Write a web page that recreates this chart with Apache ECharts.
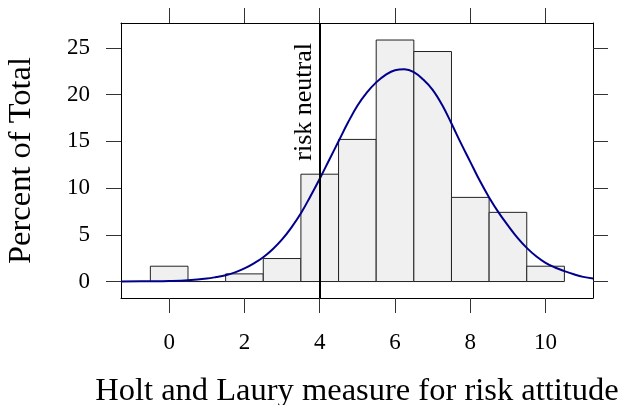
<!DOCTYPE html>
<html>
<head>
<meta charset="utf-8">
<script src="https://cdn.jsdelivr.net/npm/echarts@6/dist/echarts.min.js"></script>
<style>html,body{margin:0;padding:0;background:#fff}#c{width:621px;height:405px}</style>
</head>
<body>
<div id="c"></div>
<script>
// Histogram bins (centres) and percent of total
const binCentres = [0, 1, 2, 3, 4, 5, 6, 7, 8, 9, 10];
const percentOfTotal = [1.64, 0, 0.82, 2.46, 11.48, 15.2, 25.83, 24.6, 9.0, 7.4, 1.64];
// Fitted density curve
const curveX = [-1.28, -0.5, 0, 0.5, 1, 1.25, 1.5, 1.75, 2, 2.25, 2.5, 2.75, 3, 3.25, 3.5, 3.75, 4, 4.25, 4.5, 4.75, 5, 5.25, 5.5, 5.75, 6, 6.25, 6.5, 6.75, 7, 7.25, 7.5, 7.75, 8, 8.25, 8.5, 8.75, 9, 9.25, 9.5, 9.75, 10, 10.25, 10.5, 10.75, 11, 11.26];
const curveY = [0.01, 0.03, 0.06, 0.14, 0.32, 0.48, 0.68, 0.98, 1.4, 1.95, 2.6, 3.45, 4.5, 5.8, 7.3, 9.1, 11.0, 13.0, 15.0, 17.0, 18.8, 20.2, 21.3, 22.1, 22.6, 22.7, 22.4, 21.6, 20.5, 18.9, 16.9, 14.8, 12.8, 10.8, 9.0, 7.4, 6.0, 4.7, 3.6, 2.7, 2.0, 1.5, 1.12, 0.78, 0.5, 0.33];
// Ticks
const xTicks = [0, 2, 4, 6, 8, 10];
const yTicks = [0, 5, 10, 15, 20, 25];
const riskNeutral = 4;
const xRange = [-1.28, 11.26];
const yRange = [-1.76, 27.65];
const binWidth = 1;

const FONT = 'Liberation Serif';
const chart = echarts.init(document.getElementById('c'), null, {renderer: 'canvas'});

function axisCommon(extra) {
  return Object.assign({
    type: 'value',
    splitLine: {show: false},
    axisLine: {show: true, onZero: false, lineStyle: {color: '#000', width: 1}}
  }, extra);
}

const xA = (pos, labels) => axisCommon({
  position: pos, min: xRange[0], max: xRange[1],
  axisTick: {show: true, length: 15, customValues: xTicks, lineStyle: {color: '#333', width: 1}},
  axisLabel: labels ? {show: true, customValues: xTicks, margin: 33, color: '#000', fontFamily: FONT, fontSize: 23} : {show: false},
  name: labels ? 'Holt and Laury measure for risk attitude' : '',
  nameLocation: 'middle', nameGap: 77,
  nameTextStyle: {color: '#000', fontFamily: FONT, fontSize: 32.5}
});
const yA = (pos, labels) => axisCommon({
  position: pos, min: yRange[0], max: yRange[1],
  axisTick: {show: true, length: 15, customValues: yTicks, lineStyle: {color: '#333', width: 1}},
  axisLabel: labels ? {show: true, customValues: yTicks, margin: 31, color: '#000', fontFamily: FONT, fontSize: 23} : {show: false},
  name: labels ? 'Percent of Total' : '',
  nameLocation: 'middle', nameGap: 83,
  nameTextStyle: {color: '#000', fontFamily: FONT, fontSize: 32.5}
});

chart.setOption({
  animation: false,
  backgroundColor: '#fff',
  grid: {left: 121, right: 28, top: 23, bottom: 107, containLabel: false, outerBoundsMode: 'none'},
  xAxis: [xA('bottom', true), xA('top', false)],
  yAxis: [yA('left', true), yA('right', false)],
  series: [
    {
      type: 'custom',
      xAxisIndex: 0, yAxisIndex: 0,
      data: binCentres.map((c, i) => [c, percentOfTotal[i]]),
      renderItem: function (params, api) {
        const c = api.value(0), v = api.value(1);
        const p0 = api.coord([c - binWidth / 2, v]);
        const p1 = api.coord([c + binWidth / 2, 0]);
        return {
          type: 'rect',
          shape: {x: p0[0], y: p0[1], width: p1[0] - p0[0], height: p1[1] - p0[1]},
          style: {fill: '#f0f0f0', stroke: '#222', lineWidth: 1}
        };
      },
      z: 1
    },
    {
      type: 'line',
      xAxisIndex: 0, yAxisIndex: 0,
      data: curveX.map((x, i) => [x, curveY[i]]),
      smooth: 0.4,
      showSymbol: false,
      lineStyle: {color: '#00008b', width: 2},
      z: 3,
      markLine: {
        silent: true,
        symbol: 'none',
        lineStyle: {color: '#000', width: 2, type: 'solid'},
        label: {
          show: true,
          position: 'insideEndTop',
          distance: [20, 3],
          formatter: 'risk neutral',
          color: '#000', fontFamily: FONT, fontSize: 26
        },
        data: [[{coord: [riskNeutral, yRange[0]]}, {coord: [riskNeutral, yRange[1]]}]],
        z: 4
      }
    }
  ]
});
</script>
</body>
</html>
